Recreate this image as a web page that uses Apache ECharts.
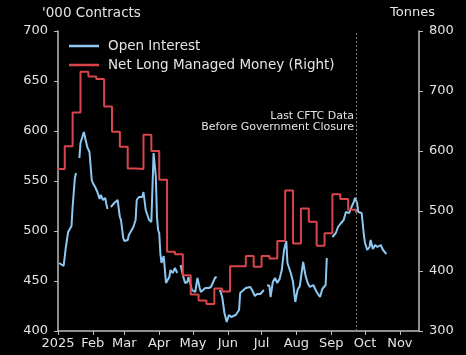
<!DOCTYPE html>
<html><head><meta charset="utf-8">
<script src="https://cdn.jsdelivr.net/npm/echarts@6/dist/echarts.min.js"></script>
<style>html,body{margin:0;padding:0;background:#000}#c{width:466px;height:355px}</style>
</head><body><div id="c"></div>
<script>
const xTickLabels = ['2025','Feb','Mar','Apr','May','Jun','Jul','Aug','Sep','Oct','Nov'];
const legendNames = ['Open Interest', 'Net Long Managed Money (Right)'];
const leftAxisTitle = "'000 Contracts";
const rightAxisTitle = 'Tonnes';
const noteLines = ['Last CFTC Data', 'Before Government Closure'];
const lastCftcDate = '2025-09-23';
const xStart = '2025-01-01', xEnd = '2025-11-18';

const oiDates = ['2025-01-02','2025-01-06','2025-01-08','2025-01-10','2025-01-13','2025-01-14','2025-01-16','2025-01-17','2025-01-18','2025-01-20','2025-01-21','2025-01-24','2025-01-26','2025-01-27','2025-01-29','2025-01-30','2025-01-31','2025-02-01','2025-02-03','2025-02-05','2025-02-07','2025-02-08','2025-02-09','2025-02-10','2025-02-12','2025-02-13','2025-02-14','2025-02-15','2025-02-17','2025-02-20','2025-02-23','2025-02-25','2025-02-26','2025-02-28','2025-03-01','2025-03-04','2025-03-05','2025-03-09','2025-03-11','2025-03-12','2025-03-14','2025-03-17','2025-03-18','2025-03-20','2025-03-23','2025-03-25','2025-03-26','2025-03-27','2025-03-29','2025-03-30','2025-03-31','2025-04-01','2025-04-02','2025-04-03','2025-04-05','2025-04-07','2025-04-08','2025-04-10','2025-04-11','2025-04-13','2025-04-15','2025-04-16','2025-04-17','2025-04-18','2025-04-20','2025-04-22','2025-04-24','2025-04-26','2025-04-27','2025-04-29','2025-04-30','2025-05-01','2025-05-03','2025-05-05','2025-05-07','2025-05-08','2025-05-10','2025-05-12','2025-05-15','2025-05-17','2025-05-19','2025-05-21','2025-05-22','2025-05-24','2025-05-25','2025-05-27','2025-05-29','2025-05-31','2025-06-02','2025-06-04','2025-06-08','2025-06-11','2025-06-12','2025-06-15','2025-06-17','2025-06-21','2025-06-23','2025-06-25','2025-06-27','2025-06-30','2025-07-03','2025-07-04','2025-07-06','2025-07-08','2025-07-09','2025-07-11','2025-07-13','2025-07-15','2025-07-17','2025-07-19','2025-07-21','2025-07-23','2025-07-24','2025-07-27','2025-07-29','2025-07-31','2025-08-02','2025-08-04','2025-08-07','2025-08-09','2025-08-11','2025-08-13','2025-08-16','2025-08-19','2025-08-22','2025-08-24','2025-08-27','2025-08-28','2025-08-30','2025-09-02','2025-09-05','2025-09-07','2025-09-09','2025-09-12','2025-09-14','2025-09-17','2025-09-19','2025-09-21','2025-09-22','2025-09-24','2025-09-25','2025-09-28','2025-09-29','2025-09-30','2025-10-01','2025-10-03','2025-10-05','2025-10-06','2025-10-08','2025-10-10','2025-10-12','2025-10-15','2025-10-17','2025-10-20'];
const oiValues = [468,465,484,499,505,524,553,558,null,573,588,599,589,584,579,581,551,548,544,539,532,536,538,531,533,527,522,null,524,528,531,514,511,493,490,491,496,504,511,531,534,534,539,521,511,509,511,578,554,514,501,498,478,468,475,448,446,454,461,458,463,461,458,null,466,456,448,449,454,446,441,443,439,453,443,439,441,443,443,444,449,454,453,null,441,434,418,409,416,414,416,421,438,441,443,444,440,435,437,437,441,null,446,445,434,449,453,448,452,461,481,490,468,458,449,429,441,445,469,456,448,444,446,439,434,442,446,473,null,494,498,504,507,511,519,518,524,529,533,528,519,518,519,496,488,481,484,491,482,486,484,486,481,477];

const cftcDates = ['2024-12-31','2025-01-07','2025-01-14','2025-01-21','2025-01-28','2025-02-04','2025-02-11','2025-02-18','2025-02-25','2025-03-04','2025-03-11','2025-03-18','2025-03-25','2025-04-01','2025-04-08','2025-04-15','2025-04-22','2025-04-29','2025-05-06','2025-05-13','2025-05-20','2025-05-27','2025-06-03','2025-06-10','2025-06-17','2025-06-24','2025-07-01','2025-07-08','2025-07-15','2025-07-22','2025-07-29','2025-08-05','2025-08-12','2025-08-19','2025-08-26','2025-09-02','2025-09-09','2025-09-16','2025-09-23'];
const cftcValues = [570,608,664,732,724,720,674,632,607,571,570,627,600,552,432,428,393,361,351,345,371,366,408,408,425,407,425,421,450,534,446,504,482,442,463,528,520,502,497];

const txt = '#e4e4e4', axisCol = '#bdbdbd';
const blue = '#8cc8f2', red = '#d8454a';
const font = 'DejaVu Sans';
const ts = d => Date.UTC(+d.slice(0,4), +d.slice(5,7) - 1, +d.slice(8,10));
const monthTicks = xTickLabels.map((_, i) => Date.UTC(2025, i, 1));
const barIcon = 'path://M0,0L30,0L30,2.5L0,2.5Z';

const chart = echarts.init(document.getElementById('c'), null, {renderer: 'canvas'});
chart.setOption({
  backgroundColor: '#000',
  animation: false,
  grid: {left: 58, right: 47, top: 31, bottom: 24},
  legend: {
    orient: 'vertical', left: 64, top: 34, itemWidth: 30, itemHeight: 14, itemGap: 5,
    icon: barIcon,
    itemStyle: {borderWidth: 0},
    textStyle: {color: txt, fontSize: 13.5, fontFamily: font, lineHeight: 14, padding: [0,0,0,4]},
    data: [
      {name: legendNames[0], itemStyle: {color: blue, borderWidth: 0}},
      {name: legendNames[1], itemStyle: {color: red, borderWidth: 0}}
    ]
  },
  xAxis: {
    type: 'value',
    min: ts(xStart), max: ts(xEnd),
    axisLine: {lineStyle: {color: axisCol, width: 1.5}},
    axisTick: {show: true, length: 4, customValues: monthTicks, lineStyle: {color: axisCol, width: 1}},
    axisLabel: {
      customValues: monthTicks, color: txt, fontSize: 13, fontFamily: font, margin: 6, hideOverlap: false,
      formatter: v => xTickLabels[new Date(v).getUTCMonth()]
    },
    splitLine: {show: false}
  },
  yAxis: [{
    type: 'value', min: 400, max: 700, interval: 50, position: 'left',
    axisLine: {show: true, lineStyle: {color: axisCol, width: 1.5}},
    axisTick: {show: true, length: 4, lineStyle: {color: axisCol}},
    axisLabel: {color: txt, fontSize: 13, fontFamily: font, margin: 10},
    splitLine: {show: false}
  }, {
    type: 'value', min: 300, max: 800, interval: 100, position: 'right',
    axisLine: {show: true, lineStyle: {color: axisCol, width: 1.5}},
    axisTick: {show: true, length: 4, lineStyle: {color: axisCol}},
    axisLabel: {color: txt, fontSize: 13, fontFamily: font, margin: 10},
    splitLine: {show: false}
  }],
  graphic: [
    {type: 'text', left: 42, top: 6, style: {text: leftAxisTitle, fill: txt, fontSize: 13.5, fontFamily: font}},
    {type: 'text', right: 31, top: 6, style: {text: rightAxisTitle, fill: txt, fontSize: 13, fontFamily: font}},
    {type: 'text', right: 112, top: 111, style: {text: noteLines[0], fill: txt, fontSize: 11, fontFamily: font}},
    {type: 'text', right: 112, top: 121.5, style: {text: noteLines[1], fill: txt, fontSize: 11, fontFamily: font}}
  ],
  series: [{
    name: legendNames[0], type: 'line', yAxisIndex: 0, symbol: 'none', connectNulls: false,
    color: blue, lineStyle: {width: 2, color: blue},
    data: oiDates.map((d, i) => [ts(d), oiValues[i] === null ? '-' : oiValues[i]]),
    markLine: {
      silent: true, symbol: 'none', label: {show: false},
      lineStyle: {color: '#9a9a9a', type: [2, 2], width: 0.8},
      data: [{xAxis: ts(lastCftcDate)}]
    },
    z: 2
  }, {
    name: legendNames[1], type: 'line', yAxisIndex: 1, symbol: 'none', step: 'end',
    color: red, lineStyle: {width: 2, color: red},
    data: cftcDates.map((d, i) => [ts(d), cftcValues[i]]),
    z: 3
  }]
});
</script></body></html>
